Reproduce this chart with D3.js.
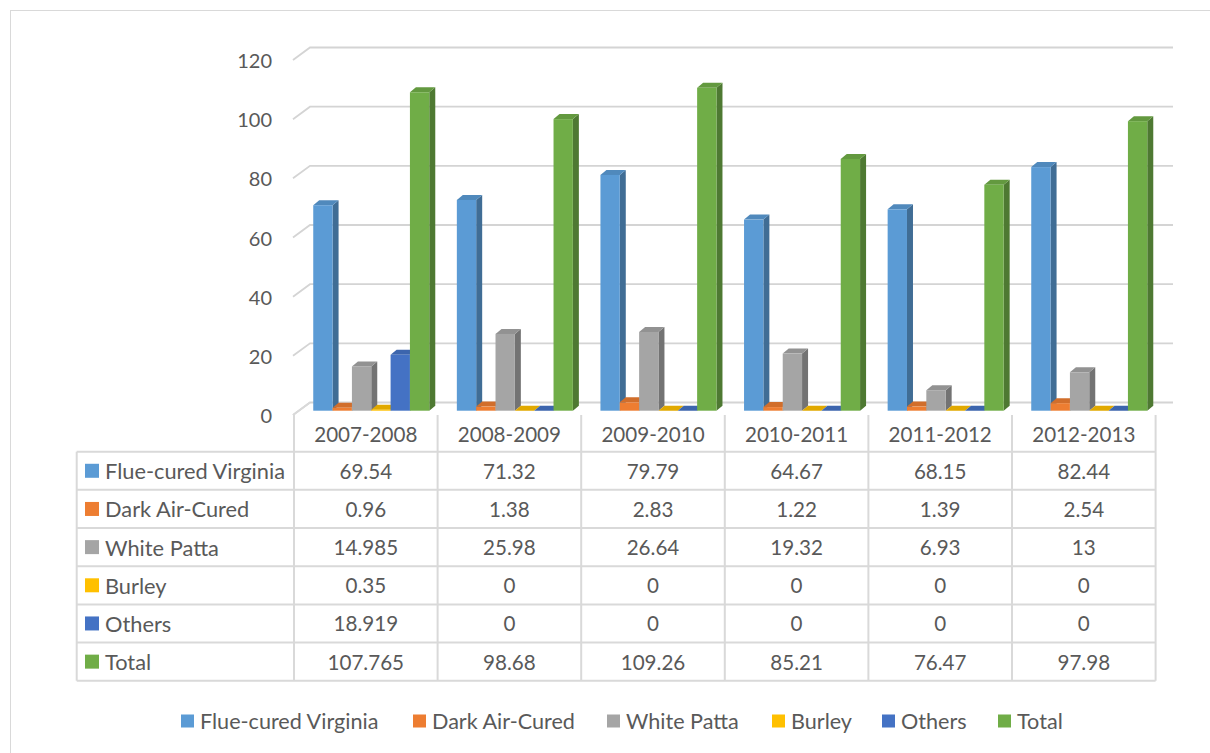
<!DOCTYPE html>
<html>
<head>
<meta charset="utf-8">
<script src="https://cdn.jsdelivr.net/npm/d3@7"></script>
<style>
  html, body { margin: 0; padding: 0; background: #fff; }
  svg { display: block; }
  text { font-family: Lato, "Open Sans", sans-serif; fill: #595959; }
</style>
</head>
<body>
<svg id="chart" width="1210" height="753"></svg>
<script>
// Tobacco production by type, 2007-2008 to 2012-2013
const years = ["2007-2008", "2008-2009", "2009-2010", "2010-2011", "2011-2012", "2012-2013"];
const seriesNames = ["Flue-cured Virginia", "Dark Air-Cured", "White Patta", "Burley", "Others", "Total"];
const seriesColors = ["#5B9BD5", "#ED7D31", "#A5A5A5", "#FFC000", "#4472C4", "#70AD47"];

const flueCured  = [69.54, 71.32, 79.79, 64.67, 68.15, 82.44];
const darkAir    = [0.96, 1.38, 2.83, 1.22, 1.39, 2.54];
const whitePatta = [14.985, 25.98, 26.64, 19.32, 6.93, 13];
const burley     = [0.35, 0, 0, 0, 0, 0];
const others     = [18.919, 0, 0, 0, 0, 0];
const total      = [107.765, 98.68, 109.26, 85.21, 76.47, 97.98];

const tickValues = [0, 20, 40, 60, 80, 100, 120];

const seriesValues = [flueCured, darkAir, whitePatta, burley, others, total];

const svg = d3.select("#chart");

// chart area frame
svg.append("rect")
  .attr("x", 10.5).attr("y", 10.5)
  .attr("width", 1300).attr("height", 900)
  .attr("fill", "#fff").attr("stroke", "#d9d9d9").attr("stroke-width", 1);

// Scales
const tableLeft = 76.7, colLeft = 294, colRight = 1155.6;
const x0 = d3.scaleBand().domain(years).range([colLeft, colRight]);
const bw = x0.bandwidth();
const x1 = d3.scaleBand().domain(seriesNames).range([bw * 0.134, bw * 0.942]);

// bar fronts sit a little behind the front edge of the floor
const yBar = d3.scaleLinear().domain([0, 120]).range([410.7, 410.7 - 120 * 2.955]);
// front-left corner of the walls
const yFront = d3.scaleLinear().domain([0, 120]).range([415, 60]);

const depth = { dx: 6, dy: -5 };          // bar depth projection
const wall = { dx: 17, dy: -12.5 };       // floor/wall depth projection
const wallLeftX = 293, wallRightX = 1173;

// Gridlines along left wall and back wall
const grid = svg.append("g");
tickValues.forEach(v => {
  const yf = yFront(v);
  grid.append("polyline")
    .attr("points", [
      [wallLeftX, yf],
      [wallLeftX + wall.dx, yf + wall.dy],
      [wallRightX, yf + wall.dy]
    ].map(p => p.join(",")).join(" "))
    .attr("fill", "none").attr("stroke", "#d4d4d4").attr("stroke-width", 1.8);
});

// Value axis labels
svg.append("g").selectAll("text").data(tickValues).join("text")
  .attr("x", 272).attr("y", d => yFront(d))
  .attr("text-anchor", "end").attr("dominant-baseline", "central")
  .style("font-size", "20px")
  .text(d => d);

// 3D bars
const bars = svg.append("g");
years.forEach((yr, ci) => {
  seriesNames.forEach((s, si) => {
    const v = seriesValues[si][ci];
    const base = d3.color(seriesColors[si]);
    const xl = x0(yr) + x1(s);
    const xr = xl + x1.bandwidth();
    const yt = yBar(v), yb = yBar(0);
    const g = bars.append("g");
    // side face
    g.append("polygon")
      .attr("points", [[xr, yt], [xr + depth.dx, yt + depth.dy], [xr + depth.dx, yb + depth.dy], [xr, yb]]
        .map(p => p.join(",")).join(" "))
      .attr("fill", base.darker(1.0).formatHex());
    // top face
    g.append("polygon")
      .attr("points", [[xl, yt], [xl + depth.dx, yt + depth.dy], [xr + depth.dx, yt + depth.dy], [xr, yt]]
        .map(p => p.join(",")).join(" "))
      .attr("fill", base.darker(0.35).formatHex());
    // front face
    g.append("rect")
      .attr("x", xl).attr("y", yt)
      .attr("width", x1.bandwidth()).attr("height", Math.max(0, yb - yt))
      .attr("fill", base.formatHex());
  });
});

// Data table
const headerTop = 415, rowTop = 451.7, rowH = 38.17;
const table = svg.append("g");
const lineColor = "#d9d9d9";
const rowsBottom = rowTop + rowH * seriesNames.length;

// horizontal lines
d3.range(seriesNames.length + 1).forEach(i => {
  table.append("line")
    .attr("x1", tableLeft).attr("x2", colRight)
    .attr("y1", rowTop + i * rowH).attr("y2", rowTop + i * rowH)
    .attr("stroke", lineColor).attr("stroke-width", 2);
});
// outer left edge of the label column
table.append("line")
  .attr("x1", tableLeft).attr("x2", tableLeft)
  .attr("y1", rowTop).attr("y2", rowsBottom)
  .attr("stroke", lineColor).attr("stroke-width", 2);
// column separators
d3.range(years.length + 1).forEach(i => {
  const x = colLeft + i * bw;
  table.append("line")
    .attr("x1", x).attr("x2", x)
    .attr("y1", headerTop).attr("y2", rowsBottom)
    .attr("stroke", lineColor).attr("stroke-width", 2);
});
// left floor edge
table.append("line")
  .attr("x1", wallLeftX).attr("y1", yFront(0))
  .attr("x2", wallLeftX + wall.dx).attr("y2", yFront(0) + wall.dy)
  .attr("stroke", lineColor).attr("stroke-width", 1.6);

// header labels
table.selectAll(".hdr").data(years).join("text")
  .attr("class", "hdr")
  .attr("x", d => x0(d) + bw / 2).attr("y", (headerTop + rowTop) / 2 + 1)
  .attr("text-anchor", "middle").attr("dominant-baseline", "central")
  .style("font-size", "20.6px")
  .text(d => d);

// row labels with keys
seriesNames.forEach((s, si) => {
  const cy = rowTop + si * rowH + rowH / 2;
  table.append("rect")
    .attr("x", 85).attr("y", cy - 7).attr("width", 14).attr("height", 14)
    .attr("fill", seriesColors[si]);
  table.append("text")
    .attr("x", 105).attr("y", cy)
    .attr("dominant-baseline", "central")
    .style("font-size", "21.8px")
    .text(s);
  years.forEach((yr, ci) => {
    table.append("text")
      .attr("x", x0(yr) + bw / 2).attr("y", cy)
      .attr("text-anchor", "middle").attr("dominant-baseline", "central")
      .style("font-size", "20.6px")
      .text(seriesValues[si][ci]);
  });
});

// Bottom legend
const legendX = [181, 413, 607, 772, 882, 998];
const legend = svg.append("g");
seriesNames.forEach((s, si) => {
  legend.append("rect")
    .attr("x", legendX[si]).attr("y", 714.5).attr("width", 13).attr("height", 13)
    .attr("fill", seriesColors[si]);
  legend.append("text")
    .attr("x", legendX[si] + 19).attr("y", 721)
    .attr("dominant-baseline", "central")
    .style("font-size", "21.6px")
    .text(s);
});
</script>
</body>
</html>
